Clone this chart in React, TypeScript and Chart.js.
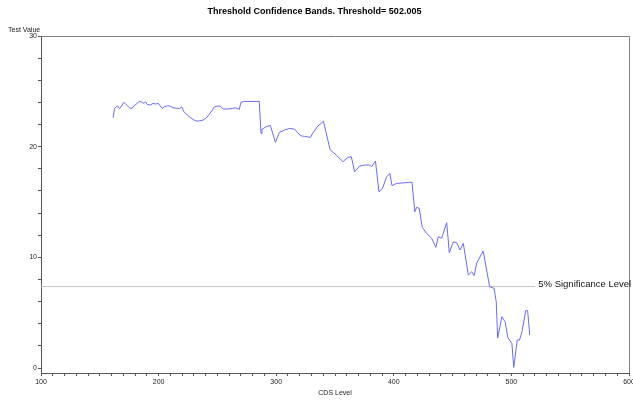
import React, { useEffect, useRef } from "react";
import { Chart, registerables } from "chart.js";

Chart.register(...registerables);

const chartTitle = "Threshold Confidence Bands. Threshold= 502.005";
const xAxisTitle = "CDS Level";
const yAxisTitle = "Test Value";
const sigLabel = "5% Significance Level";

const cdsLevels = [
  161.3, 162.5, 165.0, 166.7, 167.9, 170.4, 172.1, 175.3, 177.5, 178.9,
  181.3, 183.2, 185.5, 187.5, 188.9, 190.3, 193.2, 195.2, 197.5, 199.7,
  201.4, 203.1, 204.8, 207.4, 209.4, 211.6, 215.0, 218.0, 219.7, 221.6,
  224.4, 227.3, 230.2, 232.5, 235.0, 237.8, 240.7, 243.0, 245.3, 247.5,
  250.4, 252.9, 254.9, 258.6, 262.8, 265.7, 268.6, 270.0, 272.8, 285.6,
  287.1, 287.9, 291.3, 295.0, 299.3, 302.7, 307.0, 311.2, 315.5, 318.3,
  321.2, 324.0, 329.2, 330.9, 335.4, 340.2, 345.8, 351.1, 356.7, 361.0,
  363.9, 366.7, 371.0, 375.3, 379.5, 381.0, 384.4, 387.4, 390.4, 393.8,
  396.6, 398.5, 402.3, 409.4, 415.4, 417.9, 419.4, 421.6, 424.2, 427.9,
  432.2, 435.8, 437.8, 440.7, 445.0, 447.2, 450.6, 453.5, 456.3, 459.1,
  463.4, 466.3, 468.3, 470.6, 476.0, 481.5, 485.3, 487.1, 488.3, 491.9,
  494.7, 496.9, 500.4, 502.0, 505.0, 506.9, 509.0, 512.2, 513.8, 515.6,
];

const testValues = [
  22.61, 23.46, 23.69, 23.46, 23.58, 24.0, 23.85, 23.51, 23.46, 23.69,
  23.85, 24.06, 24.06, 23.91, 24.06, 23.82, 23.76, 23.91, 23.85, 23.91,
  23.69, 23.46, 23.60, 23.69, 23.69, 23.55, 23.46, 23.46, 23.60, 23.15,
  22.85, 22.61, 22.40, 22.31, 22.34, 22.40, 22.61, 22.92, 23.24, 23.60,
  23.67, 23.64, 23.40, 23.40, 23.46, 23.51, 23.37, 24.0, 24.09, 24.09,
  21.20, 21.56, 21.80, 21.92, 20.39, 21.29, 21.50, 21.65, 21.59, 21.26,
  20.98, 20.93, 20.84, 21.20, 21.86, 22.29, 19.73, 19.24, 18.64, 19.03,
  19.09, 17.73, 18.25, 18.34, 18.34, 18.18, 18.70, 15.93, 16.23, 17.25,
  17.59, 16.47, 16.68, 16.74, 16.80, 14.12, 14.52, 14.43, 12.71, 12.17,
  11.72, 10.90, 11.86, 11.72, 13.13, 10.42, 11.41, 11.32, 10.66, 11.26,
  8.40, 8.70, 8.34, 9.51, 10.57, 7.34, 7.20, 5.99, 2.71, 4.63,
  4.18, 2.76, 2.23, 0.05, 2.53, 2.53, 3.28, 5.19, 5.19, 2.98,
];

const significanceLevel = 7.36;
const sigLineX = [100, 520.3];

const xMin = 100;
const xMax = 600;
const xMinorStep = 10;
const xMajorStep = 100;
const yMin = -0.45;
const yMax = 30;
const yMinorStep = 2;
const yMajorStep = 10;

const FONT = '"Liberation Sans", Arial, Helvetica, sans-serif';

export default function App() {
  const canvasRef = useRef<HTMLCanvasElement | null>(null);

  useEffect(() => {
    const canvas = canvasRef.current;
    if (!canvas) return;

    const framePlugin = {
      id: "frameAndLabels",
      afterDraw(chart: any) {
        const { ctx, chartArea, scales } = chart;
        ctx.save();
        ctx.strokeStyle = "#808080";
        ctx.lineWidth = 1;
        ctx.beginPath();
        ctx.moveTo(chartArea.left, Math.round(chartArea.top) + 0.5);
        ctx.lineTo(Math.round(chartArea.right) + 0.5, Math.round(chartArea.top) + 0.5);
        ctx.lineTo(Math.round(chartArea.right) + 0.5, chartArea.bottom);
        ctx.stroke();

        ctx.fillStyle = "#222";
        ctx.font = `7px ${FONT}`;
        ctx.textAlign = "left";
        ctx.textBaseline = "middle";
        ctx.fillText(yAxisTitle, 8, 30);

        const yPix = scales.y.getPixelForValue(significanceLevel);
        const xPix = scales.x.getPixelForValue(sigLineX[1]);
        ctx.font = `9.5px ${FONT}`;
        ctx.fillStyle = "#111";
        ctx.textBaseline = "alphabetic";
        ctx.fillText(sigLabel, xPix + 3, yPix + 0.5);
        ctx.restore();
      },
    };

    const chart = new Chart(canvas, {
      type: "line",
      data: {
        datasets: [
          {
            label: "Test Value",
            data: cdsLevels.map((x, i) => ({ x, y: testValues[i] })),
            borderColor: "#6a6aff",
            borderWidth: 1,
            pointRadius: 0,
            tension: 0,
            fill: false,
          },
          {
            label: sigLabel,
            data: sigLineX.map((x) => ({ x, y: significanceLevel })),
            borderColor: "#c4c4c4",
            borderWidth: 1,
            pointRadius: 0,
            fill: false,
          },
        ],
      },
      plugins: [framePlugin],
      options: {
        responsive: false,
        animation: false,
        devicePixelRatio: 1,
        layout: { padding: { top: 0, left: 0, right: 4, bottom: 0 } },
        plugins: {
          legend: { display: false },
          tooltip: { enabled: false },
          title: {
            display: true,
            text: chartTitle,
            color: "#000",
            font: { family: FONT, size: 9, weight: "bold" },
            padding: { top: 6, bottom: 19.2 },
          },
        },
        scales: {
          x: {
            type: "linear",
            min: xMin,
            max: xMax,
            afterBuildTicks(scale: any) {
              const t = [];
              for (let v = xMin; v <= xMax; v += xMinorStep) t.push({ value: v });
              scale.ticks = t;
            },
            afterFit(scale: any) {
              scale.height = 30;
              scale.paddingLeft = 0;
              scale.paddingRight = 0;
            },
            ticks: {
              autoSkip: false,
              maxRotation: 0,
              minRotation: 0,
              padding: 2,
              color: "#222",
              font: { family: FONT, size: 7 },
              callback: (v: any) => (Number(v) % xMajorStep === 0 ? String(v) : ""),
            },
            grid: {
              drawOnChartArea: false,
              drawTicks: true,
              tickLength: 3,
              color: "#555",
            },
            border: { display: true, color: "#555" },
            title: {
              display: true,
              text: xAxisTitle,
              color: "#222",
              font: { family: FONT, size: 7 },
              padding: { top: 2, bottom: 6 },
            },
          },
          y: {
            type: "linear",
            min: yMin,
            max: yMax,
            afterBuildTicks(scale: any) {
              const t = [];
              for (let v = 0; v <= yMax; v += yMinorStep) t.push({ value: v });
              scale.ticks = t;
            },
            afterFit(scale: any) {
              scale.width = 41;
              scale.paddingTop = 0;
              scale.paddingBottom = 0;
            },
            ticks: {
              autoSkip: false,
              padding: 1,
              color: "#222",
              font: { family: FONT, size: 7 },
              callback: (v: any) => (Number(v) % yMajorStep === 0 ? String(v) : ""),
            },
            grid: {
              drawOnChartArea: false,
              drawTicks: true,
              tickLength: 3,
              color: "#555",
            },
            border: { display: true, color: "#555" },
          },
        },
      },
    } as any);

    return () => {
      chart.destroy();
    };
  }, []);

  return (
    <div
      style={{
        position: "fixed",
        left: 0,
        top: 0,
        width: 633,
        height: 403,
        background: "#fff",
      }}
    >
      <canvas ref={canvasRef} width={633} height={403} />
    </div>
  );
}
